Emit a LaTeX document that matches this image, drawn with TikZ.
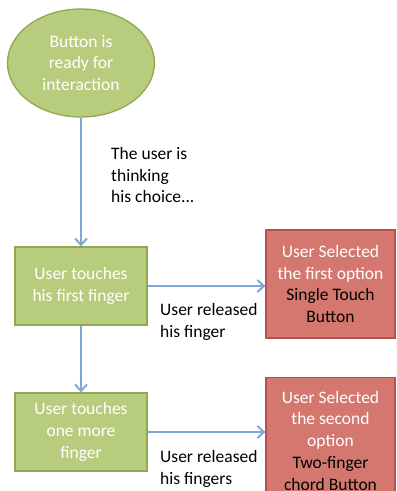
\documentclass[tikz,border=0pt]{standalone}
\usepackage{fontspec}
\setmainfont{Carlito}
\usetikzlibrary{shapes.geometric,arrows.meta}
\definecolor{greenfill}{HTML}{B8CC7E}
\definecolor{greenline}{HTML}{8FA852}
\definecolor{redfill}{HTML}{D4776F}
\definecolor{redline}{HTML}{B5504A}
\definecolor{flow}{HTML}{7EA6D6}
\tikzset{
  txt/.style={font=\fontsize{17.5}{21.8}\selectfont},
  startnode/.style={ellipse, draw=greenline, fill=greenfill, line width=1.3pt,
    minimum width=147pt, minimum height=108pt, inner sep=0pt,
    align=center, text=white, txt},
  actbox/.style={rectangle, draw=greenline, fill=greenfill, line width=1.3pt,
    minimum width=132pt, minimum height=78pt, inner sep=0pt,
    align=center, text=white, txt},
  resbox/.style={rectangle, draw=redline, fill=redfill, line width=1.3pt,
    minimum width=129pt, inner sep=0pt, align=center, text=white, txt},
  flowarrow/.style={draw=flow, line width=2.2pt,
    -{Straight Barb[length=6.5pt,width=12pt,line width=2pt]}},
  note/.style={align=left, text=black, inner sep=0pt, txt},
}
\begin{document}
\begin{tikzpicture}[x=1pt,y=-1pt]
  \useasboundingbox (0,0) rectangle (397,491);
  \clip (0,0) rectangle (397,491);

  \node[startnode] (start) at (81,63) {Button is\\ready for\\interaction};
  \node[actbox] (g1) at (81,286) {User touches\\his first finger};
  \node[actbox] (g2) at (81,432) {User touches\\one more\\finger};
  \node[resbox, minimum height=108pt] (r1) at (330.5,284)
    {User Selected\\the first option\\{\color{black}Single Touch}\\{\color{black}Button}};
  \node[resbox, minimum height=126pt, anchor=north] (r2) at (330.5,377)
    {User Selected\\the second\\option\\{\color{black}Two-finger}\\{\color{black}chord Button}};

  \draw[flowarrow] (start.south) -- (g1.north);
  \draw[flowarrow] (g1.south) -- (g2.north);
  \draw[flowarrow] (g1.east) -- (r1.west |- g1.east);
  \draw[flowarrow] (g2.east) -- (r2.west |- g2.east);

  \node[note, anchor=west] (think) at (111,175) {The user is\\thinking\\his choice...};
  \node[note, anchor=west] (rel1) at (160,322) {User released\\his finger};
  \node[note, anchor=west] (rel2) at (160,469) {User released\\his fingers};
\end{tikzpicture}
\end{document}
